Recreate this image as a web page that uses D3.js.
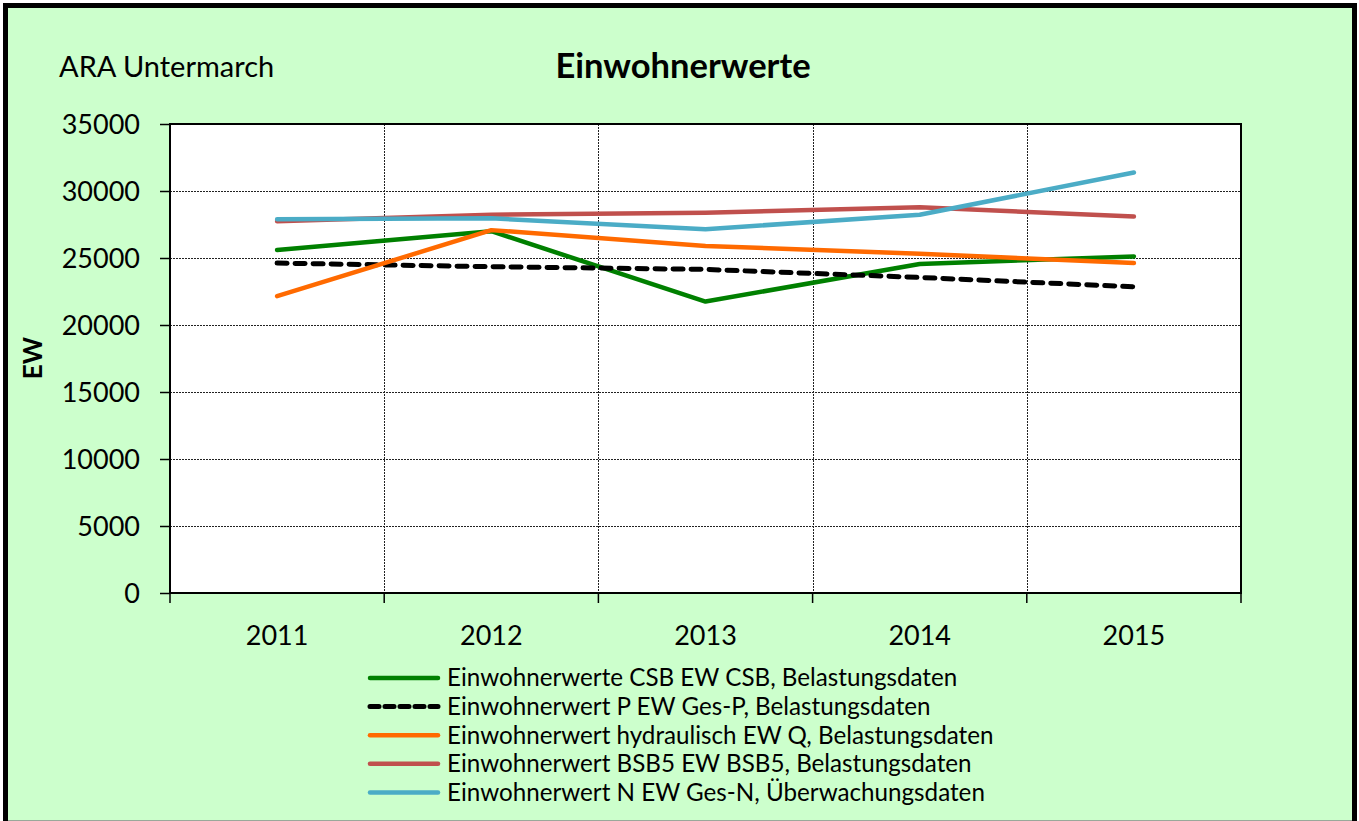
<!DOCTYPE html>
<html>
<head>
<meta charset="utf-8">
<script src="https://cdn.jsdelivr.net/npm/d3@7"></script>
<style>
  body { margin: 0; background: #fff; }
  svg text { font-family: Lato, "Open Sans", sans-serif; fill: #000; }
</style>
</head>
<body>
<svg id="chart" width="1359" height="821"></svg>
<script>
// data
const years = ['2011', '2012', '2013', '2014', '2015'];
const ewCSB = [25600, 27000, 21750, 24550, 25120];
const ewP = [24620, 24350, 24150, 23550, 22850];
const ewQ = [22150, 27080, 25900, 25320, 24620];
const ewBSB5 = [27750, 28230, 28370, 28790, 28090];
const ewN = [27900, 27960, 27150, 28230, 31380];
const yTicks = [0, 5000, 10000, 15000, 20000, 25000, 30000, 35000];

const seriesNames = [
    'Einwohnerwerte CSB EW CSB, Belastungsdaten',
    'Einwohnerwert P EW Ges-P, Belastungsdaten',
    'Einwohnerwert hydraulisch EW Q, Belastungsdaten',
    'Einwohnerwert BSB5 EW BSB5, Belastungsdaten',
    'Einwohnerwert N EW Ges-N, Überwachungsdaten'
];
const seriesValues = [ewCSB, ewP, ewQ, ewBSB5, ewN];
const seriesColors = ['#008000', '#000000', '#ff6a00', '#c0504d', '#4bacc6'];
const seriesDash = [null, '10,8', null, null, null];

const graphicopt = {
    left: 170, right: 1241, top: 124, bottom: 593,
    legendX: 368, legendY: 678, legendStep: 28.6
};

const svg = d3.select('#chart');

// outer frame
svg.append('rect').attr('x', 3).attr('y', 3).attr('width', 1354).attr('height', 830).attr('fill', '#000');
svg.append('rect').attr('x', 8).attr('y', 8).attr('width', 1344).attr('height', 812).attr('fill', '#ccffcc');
svg.append('line').attr('x1', 8).attr('x2', 1352).attr('y1', 820.5).attr('y2', 820.5).attr('stroke', '#9aa89a');

const x = d3.scaleBand().domain(years).range([graphicopt.left, graphicopt.right]).padding(0);
const y = d3.scaleLinear().domain([0, 35000]).range([graphicopt.bottom, graphicopt.top]);

// plot area
svg.append('rect')
    .attr('x', graphicopt.left).attr('y', graphicopt.top)
    .attr('width', graphicopt.right - graphicopt.left).attr('height', graphicopt.bottom - graphicopt.top)
    .attr('fill', '#fff');

const grid = svg.append('g').attr('class', 'grid');
grid.selectAll('line.h').data(yTicks.filter(d => d > 0 && d < 35000))
    .join('line').attr('class', 'h')
    .attr('x1', graphicopt.left).attr('x2', graphicopt.right)
    .attr('y1', d => Math.round(y(d)) + 0.5).attr('y2', d => Math.round(y(d)) + 0.5)
    .attr('stroke', '#222').attr('stroke-width', 1).attr('stroke-dasharray', '2,1');
grid.selectAll('line.v').data(years.slice(1))
    .join('line').attr('class', 'v')
    .attr('x1', d => Math.round(x(d)) + 0.5).attr('x2', d => Math.round(x(d)) + 0.5)
    .attr('y1', graphicopt.top).attr('y2', graphicopt.bottom)
    .attr('stroke', '#222').attr('stroke-width', 1).attr('stroke-dasharray', '2,1');

// axes
const yAxis = svg.append('g')
    .attr('transform', `translate(${graphicopt.left},0)`)
    .call(d3.axisLeft(y).tickValues(yTicks).tickSize(10).tickPadding(20).tickFormat(d3.format('d')));
yAxis.select('.domain').remove();
yAxis.selectAll('line').attr('stroke', '#000').attr('stroke-width', 1.5);
yAxis.selectAll('text').attr('font-size', 27).attr('font-family', 'Lato').attr('fill', '#000').attr('dy', '0.36em');

const xAxis = svg.append('g')
    .attr('transform', `translate(0,${graphicopt.bottom})`);
xAxis.selectAll('line.tick').data(x.domain().map(d => x(d)).concat([graphicopt.right]))
    .join('line').attr('class', 'tick')
    .attr('x1', d => d).attr('x2', d => d).attr('y1', 0).attr('y2', 10)
    .attr('stroke', '#000').attr('stroke-width', 1.5);
xAxis.selectAll('text').data(years)
    .join('text')
    .attr('x', d => x(d) + x.bandwidth() / 2)
    .attr('y', 52)
    .attr('text-anchor', 'middle')
    .attr('font-size', 27)
    .text(d => d);

// plot border
svg.append('rect')
    .attr('x', graphicopt.left).attr('y', graphicopt.top)
    .attr('width', graphicopt.right - graphicopt.left).attr('height', graphicopt.bottom - graphicopt.top)
    .attr('fill', 'none').attr('stroke', '#000').attr('stroke-width', 2);

// series
const line = d3.line()
    .x((d, i) => x(years[i]) + x.bandwidth() / 2)
    .y(d => y(d));
svg.append('g').attr('class', 'series')
    .selectAll('path').data(seriesValues)
    .join('path')
    .attr('d', d => line(d))
    .attr('fill', 'none')
    .attr('stroke', (d, i) => seriesColors[i])
    .attr('stroke-width', (d, i) => seriesDash[i] ? 5 : 4.5)
    .attr('stroke-dasharray', (d, i) => seriesDash[i])
    .attr('stroke-linecap', 'round')
    .attr('stroke-linejoin', 'round');
// drawing order as in Excel: N over BSB5
svg.select('g.series').selectAll('path').filter((d, i) => i === 4).raise();

// titles
svg.append('text').attr('x', 59).attr('y', 77).attr('font-size', 29).text('ARA Untermarch');
svg.append('text').attr('x', 683).attr('y', 78).attr('text-anchor', 'middle')
    .attr('font-size', 34.5).attr('font-weight', 'bold').text('Einwohnerwerte');
svg.append('text')
    .attr('transform', 'translate(42,358) rotate(-90)')
    .attr('text-anchor', 'middle').attr('font-size', 26).attr('font-weight', 'bold').text('EW');

// legend
const legend = svg.append('g').attr('class', 'legend')
    .selectAll('g').data(seriesNames)
    .join('g')
    .attr('transform', (d, i) => `translate(${graphicopt.legendX},${graphicopt.legendY + i * graphicopt.legendStep})`);
legend.append('line')
    .attr('x1', 2).attr('x2', 70).attr('y1', 0).attr('y2', 0)
    .attr('stroke', (d, i) => seriesColors[i])
    .attr('stroke-width', (d, i) => seriesDash[i] ? 5 : 4.5)
    .attr('stroke-dasharray', (d, i) => seriesDash[i] ? '9,6' : null)
    .attr('stroke-linecap', 'round');
legend.append('text')
    .attr('x', 79).attr('y', 0).attr('dy', '0.35em')
    .attr('font-size', 24.2)
    .text(d => d);
</script>
</body>
</html>
